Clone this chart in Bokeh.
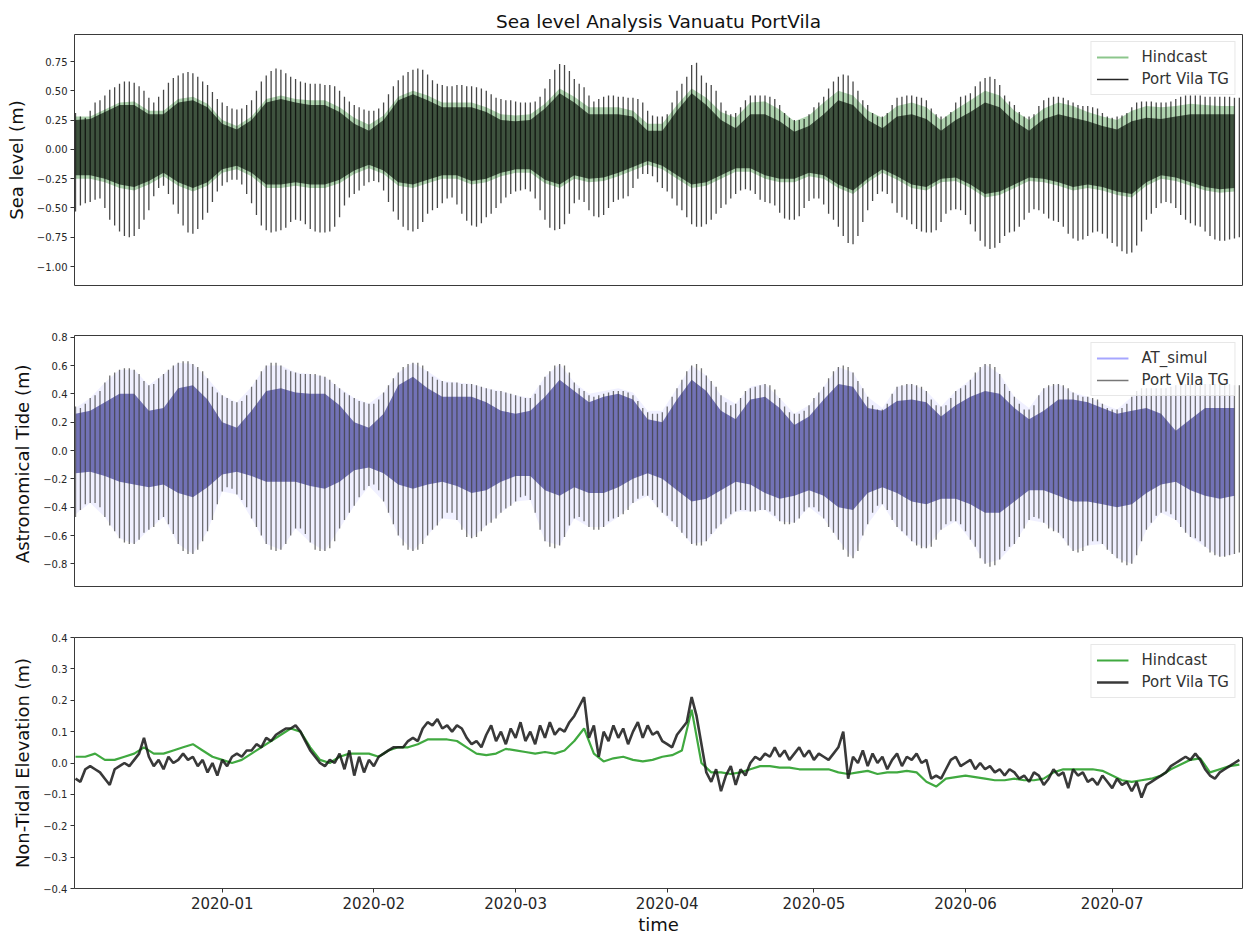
import pandas as pd
from bokeh.plotting import figure
from bokeh.layouts import column
from bokeh.models import (ColumnDataSource, Range1d, FixedTicker, Legend, LegendItem,
                          DatetimeTickFormatter)
from bokeh.embed import file_html
from bokeh.resources import INLINE

# ---------------- data ----------------
START = "2019-12-02"          # first daily sample
X_START = "2019-12-01 19:00"  # left edge of the axes
X_END = "2020-07-27 15:30"    # right edge of the axes

MONTHS = ["2020-01", "2020-02", "2020-03", "2020-04", "2020-05", "2020-06", "2020-07"]

TITLE = "Sea level Analysis Vanuatu PortVila"

# Panel 1 - Port Vila TG, daily higher-high / lower-low (m)
TG_SEA_HI = [
    0.31, 0.28, 0.27, 0.33, 0.40, 0.42, 0.46, 0.51, 0.53, 0.56,
    0.58, 0.58, 0.57, 0.54, 0.50, 0.44, 0.40, 0.45, 0.51, 0.57,
    0.61, 0.63, 0.65, 0.66, 0.65, 0.62, 0.58, 0.55, 0.49, 0.43,
    0.40, 0.37, 0.35, 0.34, 0.35, 0.38, 0.42, 0.50, 0.58, 0.63,
    0.67, 0.69, 0.68, 0.65, 0.62, 0.60, 0.58, 0.57, 0.56, 0.56,
    0.56, 0.55, 0.55, 0.54, 0.50, 0.45, 0.41, 0.38, 0.36, 0.34,
    0.33, 0.33, 0.35, 0.40, 0.47, 0.54, 0.59, 0.63, 0.66, 0.68,
    0.69, 0.68, 0.64, 0.59, 0.56, 0.55, 0.54, 0.54, 0.55, 0.55,
    0.54, 0.54, 0.53, 0.52, 0.50, 0.47, 0.44, 0.43, 0.42, 0.42,
    0.41, 0.40, 0.40, 0.40, 0.41, 0.45, 0.52, 0.60, 0.68, 0.73,
    0.72, 0.67, 0.60, 0.56, 0.53, 0.46, 0.41, 0.43, 0.45, 0.46,
    0.46, 0.45, 0.45, 0.44, 0.44, 0.43, 0.40, 0.33, 0.29, 0.28,
    0.28, 0.30, 0.40, 0.50, 0.56, 0.62, 0.72, 0.74, 0.63, 0.57,
    0.55, 0.50, 0.40, 0.33, 0.30, 0.31, 0.36, 0.42, 0.46, 0.46,
    0.46, 0.46, 0.45, 0.43, 0.38, 0.31, 0.27, 0.25, 0.25, 0.26,
    0.30, 0.36, 0.40, 0.45, 0.52, 0.58, 0.62, 0.64, 0.63, 0.58,
    0.50, 0.42, 0.38, 0.31, 0.28, 0.28, 0.31, 0.38, 0.44, 0.45,
    0.46, 0.46, 0.45, 0.44, 0.42, 0.35, 0.30, 0.28, 0.28, 0.32,
    0.40, 0.45, 0.46, 0.48, 0.54, 0.58, 0.61, 0.62, 0.60, 0.55,
    0.46, 0.41, 0.38, 0.32, 0.28, 0.28, 0.30, 0.37, 0.42, 0.44,
    0.45, 0.45, 0.44, 0.42, 0.40, 0.38, 0.37, 0.37, 0.36, 0.35,
    0.31, 0.28, 0.27, 0.28, 0.29, 0.31, 0.36, 0.40, 0.41, 0.41,
    0.41, 0.40, 0.40, 0.40, 0.41, 0.43, 0.45, 0.46, 0.46, 0.46,
    0.46, 0.45, 0.45, 0.45, 0.45, 0.45, 0.45, 0.44, 0.44]
TG_SEA_LO = [
    -0.53, -0.48, -0.46, -0.45, -0.43, -0.42, -0.50, -0.60, -0.65, -0.70,
    -0.74, -0.75, -0.74, -0.68, -0.60, -0.52, -0.40, -0.33, -0.31, -0.38,
    -0.47, -0.55, -0.65, -0.71, -0.72, -0.68, -0.60, -0.54, -0.45, -0.36,
    -0.31, -0.28, -0.26, -0.26, -0.30, -0.38, -0.46, -0.56, -0.65, -0.69,
    -0.71, -0.70, -0.69, -0.67, -0.62, -0.60, -0.61, -0.64, -0.68, -0.70,
    -0.71, -0.71, -0.70, -0.66, -0.58, -0.48, -0.41, -0.38, -0.35, -0.31,
    -0.28, -0.27, -0.28, -0.35, -0.45, -0.53, -0.60, -0.66, -0.69, -0.70,
    -0.68, -0.62, -0.55, -0.52, -0.50, -0.46, -0.42, -0.41, -0.47, -0.55,
    -0.61, -0.65, -0.66, -0.63, -0.58, -0.55, -0.50, -0.46, -0.41, -0.38,
    -0.36, -0.35, -0.34, -0.36, -0.42, -0.52, -0.60, -0.67, -0.69, -0.68,
    -0.64, -0.55, -0.46, -0.43, -0.45, -0.52, -0.57, -0.58, -0.56, -0.50,
    -0.45, -0.43, -0.42, -0.40, -0.33, -0.25, -0.21, -0.21, -0.23, -0.28,
    -0.33, -0.36, -0.42, -0.48, -0.52, -0.58, -0.64, -0.66, -0.66, -0.64,
    -0.60, -0.55, -0.50, -0.47, -0.42, -0.38, -0.35, -0.34, -0.35, -0.38,
    -0.43, -0.45, -0.46, -0.48, -0.54, -0.59, -0.60, -0.60, -0.57, -0.50,
    -0.44, -0.42, -0.42, -0.47, -0.55, -0.60, -0.66, -0.74, -0.80, -0.81,
    -0.74, -0.62, -0.52, -0.44, -0.38, -0.36, -0.38, -0.46, -0.54, -0.58,
    -0.60, -0.64, -0.68, -0.70, -0.71, -0.71, -0.69, -0.62, -0.55, -0.52,
    -0.51, -0.52, -0.56, -0.64, -0.70, -0.78, -0.83, -0.85, -0.84, -0.80,
    -0.74, -0.71, -0.70, -0.66, -0.60, -0.54, -0.51, -0.52, -0.55, -0.59,
    -0.61, -0.62, -0.66, -0.72, -0.76, -0.78, -0.77, -0.74, -0.71, -0.70,
    -0.72, -0.76, -0.80, -0.83, -0.87, -0.89, -0.88, -0.82, -0.70, -0.60,
    -0.55, -0.50, -0.46, -0.45, -0.46, -0.50, -0.56, -0.60, -0.63, -0.65,
    -0.66, -0.70, -0.74, -0.77, -0.78, -0.78, -0.77, -0.76, -0.75]

# Panel 1 - dense inner band of the TG record and of the Hindcast (every 3 days)
TG_SEA_CORE_HI = [
    0.25, 0.26, 0.32, 0.38, 0.38, 0.30, 0.30, 0.40, 0.42, 0.36,
    0.22, 0.17, 0.25, 0.40, 0.43, 0.40, 0.38, 0.38, 0.32, 0.22,
    0.16, 0.25, 0.42, 0.47, 0.42, 0.36, 0.36, 0.36, 0.32, 0.25,
    0.24, 0.25, 0.35, 0.48, 0.40, 0.30, 0.30, 0.30, 0.28, 0.16,
    0.16, 0.33, 0.48, 0.38, 0.25, 0.18, 0.30, 0.30, 0.24, 0.15,
    0.20, 0.30, 0.42, 0.38, 0.25, 0.18, 0.28, 0.30, 0.26, 0.16,
    0.25, 0.32, 0.40, 0.36, 0.24, 0.16, 0.26, 0.30, 0.27, 0.24,
    0.20, 0.17, 0.24, 0.27, 0.26, 0.28, 0.30, 0.30, 0.30, 0.30]
TG_SEA_CORE_LO = [
    -0.22, -0.22, -0.25, -0.30, -0.32, -0.27, -0.20, -0.28, -0.33, -0.28,
    -0.17, -0.14, -0.20, -0.30, -0.30, -0.28, -0.30, -0.30, -0.26, -0.18,
    -0.13, -0.18, -0.28, -0.30, -0.26, -0.22, -0.22, -0.27, -0.25, -0.20,
    -0.17, -0.17, -0.26, -0.30, -0.22, -0.25, -0.24, -0.20, -0.15, -0.10,
    -0.14, -0.22, -0.30, -0.28, -0.22, -0.16, -0.16, -0.22, -0.25, -0.25,
    -0.20, -0.22, -0.30, -0.35, -0.25, -0.17, -0.23, -0.30, -0.32, -0.25,
    -0.24, -0.30, -0.38, -0.36, -0.30, -0.24, -0.25, -0.28, -0.32, -0.30,
    -0.32, -0.36, -0.38, -0.28, -0.22, -0.24, -0.28, -0.32, -0.34, -0.33]
HINDCAST_HI = [
    0.28, 0.28, 0.34, 0.40, 0.41, 0.33, 0.33, 0.43, 0.45, 0.39,
    0.25, 0.20, 0.28, 0.43, 0.46, 0.43, 0.42, 0.42, 0.36, 0.27,
    0.21, 0.29, 0.45, 0.50, 0.46, 0.40, 0.40, 0.40, 0.36, 0.30,
    0.29, 0.30, 0.39, 0.52, 0.45, 0.36, 0.36, 0.36, 0.33, 0.22,
    0.22, 0.38, 0.52, 0.44, 0.32, 0.27, 0.40, 0.41, 0.34, 0.24,
    0.29, 0.40, 0.50, 0.46, 0.33, 0.27, 0.37, 0.40, 0.36, 0.25,
    0.34, 0.42, 0.50, 0.46, 0.33, 0.25, 0.35, 0.40, 0.37, 0.32,
    0.28, 0.25, 0.33, 0.37, 0.36, 0.37, 0.39, 0.38, 0.37, 0.37]
HINDCAST_LO = [
    -0.25, -0.25, -0.28, -0.33, -0.35, -0.30, -0.23, -0.31, -0.36, -0.31,
    -0.20, -0.17, -0.23, -0.33, -0.33, -0.31, -0.33, -0.33, -0.29, -0.21,
    -0.16, -0.21, -0.31, -0.33, -0.29, -0.25, -0.25, -0.30, -0.28, -0.23,
    -0.20, -0.20, -0.29, -0.33, -0.25, -0.28, -0.27, -0.23, -0.18, -0.13,
    -0.17, -0.25, -0.33, -0.31, -0.25, -0.19, -0.19, -0.25, -0.28, -0.28,
    -0.23, -0.25, -0.33, -0.38, -0.28, -0.20, -0.26, -0.33, -0.35, -0.28,
    -0.27, -0.33, -0.41, -0.39, -0.33, -0.27, -0.28, -0.31, -0.35, -0.33,
    -0.35, -0.39, -0.41, -0.31, -0.25, -0.27, -0.31, -0.35, -0.37, -0.36]

# Panel 2 - Port Vila TG tidal part, daily higher-high / lower-low (m)
TG_TIDE_HI = [
    0.31, 0.30, 0.33, 0.37, 0.39, 0.42, 0.48, 0.53, 0.55, 0.57,
    0.58, 0.58, 0.57, 0.54, 0.49, 0.46, 0.47, 0.51, 0.54, 0.57,
    0.60, 0.62, 0.63, 0.63, 0.61, 0.59, 0.56, 0.51, 0.45, 0.41,
    0.39, 0.37, 0.35, 0.34, 0.35, 0.39, 0.45, 0.50, 0.56, 0.60,
    0.62, 0.62, 0.60, 0.57, 0.56, 0.55, 0.54, 0.54, 0.54, 0.54,
    0.53, 0.52, 0.50, 0.47, 0.44, 0.41, 0.39, 0.37, 0.35, 0.34,
    0.33, 0.33, 0.36, 0.41, 0.46, 0.51, 0.55, 0.59, 0.61, 0.62,
    0.62, 0.60, 0.56, 0.52, 0.50, 0.49, 0.48, 0.48, 0.48, 0.47,
    0.47, 0.47, 0.46, 0.45, 0.44, 0.43, 0.42, 0.42, 0.41, 0.40,
    0.39, 0.38, 0.37, 0.37, 0.40, 0.46, 0.52, 0.56, 0.60, 0.61,
    0.60, 0.55, 0.48, 0.44, 0.42, 0.39, 0.38, 0.39, 0.40, 0.41,
    0.42, 0.42, 0.42, 0.41, 0.39, 0.35, 0.30, 0.27, 0.26, 0.26,
    0.27, 0.31, 0.38, 0.44, 0.50, 0.56, 0.60, 0.61, 0.58, 0.53,
    0.49, 0.45, 0.39, 0.34, 0.32, 0.33, 0.37, 0.42, 0.44, 0.45,
    0.46, 0.47, 0.46, 0.43, 0.37, 0.31, 0.27, 0.26, 0.26, 0.28,
    0.32, 0.37, 0.41, 0.45, 0.51, 0.56, 0.59, 0.60, 0.59, 0.55,
    0.49, 0.44, 0.38, 0.32, 0.29, 0.29, 0.33, 0.40, 0.45, 0.46,
    0.47, 0.47, 0.46, 0.45, 0.42, 0.36, 0.32, 0.31, 0.32, 0.37,
    0.42, 0.44, 0.46, 0.50, 0.55, 0.59, 0.61, 0.61, 0.59, 0.54,
    0.47, 0.42, 0.38, 0.33, 0.29, 0.29, 0.32, 0.39, 0.44, 0.46,
    0.47, 0.47, 0.46, 0.44, 0.41, 0.39, 0.38, 0.38, 0.37, 0.36,
    0.33, 0.30, 0.29, 0.29, 0.30, 0.33, 0.38, 0.42, 0.44, 0.44,
    0.44, 0.44, 0.44, 0.44, 0.45, 0.46, 0.47, 0.47, 0.47, 0.47,
    0.47, 0.47, 0.47, 0.47, 0.47, 0.47, 0.47, 0.46, 0.46]
TG_TIDE_LO = [
    -0.47, -0.42, -0.38, -0.37, -0.37, -0.40, -0.47, -0.53, -0.57, -0.62,
    -0.65, -0.66, -0.66, -0.63, -0.58, -0.56, -0.54, -0.49, -0.47, -0.52,
    -0.59, -0.66, -0.71, -0.73, -0.73, -0.70, -0.64, -0.57, -0.49, -0.38,
    -0.29, -0.26, -0.27, -0.31, -0.35, -0.40, -0.48, -0.54, -0.60, -0.66,
    -0.70, -0.71, -0.70, -0.66, -0.60, -0.55, -0.55, -0.59, -0.65, -0.70,
    -0.71, -0.71, -0.69, -0.64, -0.55, -0.49, -0.44, -0.39, -0.33, -0.28,
    -0.25, -0.24, -0.28, -0.36, -0.44, -0.52, -0.60, -0.67, -0.70, -0.71,
    -0.70, -0.66, -0.60, -0.56, -0.53, -0.48, -0.44, -0.44, -0.49, -0.56,
    -0.61, -0.62, -0.61, -0.57, -0.53, -0.51, -0.48, -0.44, -0.41, -0.39,
    -0.36, -0.33, -0.32, -0.35, -0.44, -0.56, -0.64, -0.68, -0.69, -0.67,
    -0.61, -0.53, -0.48, -0.47, -0.50, -0.54, -0.56, -0.56, -0.54, -0.50,
    -0.48, -0.47, -0.45, -0.42, -0.37, -0.34, -0.32, -0.32, -0.35, -0.40,
    -0.44, -0.46, -0.50, -0.54, -0.58, -0.62, -0.66, -0.67, -0.67, -0.64,
    -0.59, -0.55, -0.52, -0.48, -0.45, -0.43, -0.42, -0.42, -0.43, -0.43,
    -0.42, -0.42, -0.43, -0.46, -0.50, -0.52, -0.52, -0.51, -0.48, -0.43,
    -0.40, -0.40, -0.43, -0.48, -0.54, -0.58, -0.63, -0.70, -0.75, -0.76,
    -0.71, -0.60, -0.52, -0.44, -0.39, -0.38, -0.42, -0.49, -0.54, -0.57,
    -0.60, -0.64, -0.67, -0.69, -0.69, -0.68, -0.63, -0.56, -0.52, -0.50,
    -0.50, -0.52, -0.57, -0.63, -0.68, -0.76, -0.80, -0.82, -0.81, -0.77,
    -0.71, -0.68, -0.66, -0.61, -0.55, -0.49, -0.47, -0.48, -0.51, -0.55,
    -0.57, -0.58, -0.62, -0.67, -0.71, -0.72, -0.71, -0.67, -0.64, -0.64,
    -0.66, -0.70, -0.73, -0.76, -0.79, -0.81, -0.80, -0.74, -0.64, -0.56,
    -0.51, -0.46, -0.44, -0.43, -0.45, -0.49, -0.54, -0.58, -0.61, -0.62,
    -0.64, -0.68, -0.72, -0.74, -0.75, -0.75, -0.74, -0.73, -0.72]

# Panel 2 - AT_simul outer range and dense inner band (every 3 days)
AT_HI = [
    0.30, 0.37, 0.48, 0.57, 0.57, 0.46, 0.54, 0.62, 0.61, 0.51,
    0.39, 0.34, 0.45, 0.60, 0.60, 0.55, 0.54, 0.52, 0.44, 0.37,
    0.33, 0.41, 0.55, 0.62, 0.56, 0.49, 0.48, 0.47, 0.44, 0.42,
    0.39, 0.37, 0.52, 0.61, 0.48, 0.40, 0.42, 0.44, 0.41, 0.28,
    0.28, 0.44, 0.60, 0.53, 0.39, 0.33, 0.45, 0.47, 0.37, 0.26,
    0.32, 0.45, 0.59, 0.55, 0.38, 0.30, 0.45, 0.47, 0.42, 0.31,
    0.42, 0.50, 0.61, 0.54, 0.38, 0.30, 0.44, 0.47, 0.41, 0.38,
    0.33, 0.29, 0.38, 0.44, 0.44, 0.46, 0.47, 0.47, 0.47, 0.46]
AT_LO = [
    -0.45, -0.37, -0.47, -0.62, -0.66, -0.56, -0.47, -0.66, -0.73, -0.57,
    -0.29, -0.31, -0.48, -0.66, -0.70, -0.55, -0.65, -0.71, -0.55, -0.39,
    -0.25, -0.36, -0.60, -0.71, -0.60, -0.48, -0.49, -0.62, -0.53, -0.44,
    -0.36, -0.35, -0.64, -0.67, -0.48, -0.54, -0.54, -0.47, -0.37, -0.32,
    -0.44, -0.54, -0.66, -0.64, -0.52, -0.43, -0.43, -0.42, -0.50, -0.51,
    -0.40, -0.48, -0.63, -0.76, -0.52, -0.38, -0.54, -0.64, -0.69, -0.56,
    -0.50, -0.63, -0.80, -0.77, -0.66, -0.49, -0.51, -0.58, -0.71, -0.67,
    -0.66, -0.76, -0.80, -0.56, -0.44, -0.49, -0.61, -0.68, -0.75, -0.73]
AT_CORE_HI = [
    0.26, 0.28, 0.34, 0.40, 0.40, 0.28, 0.30, 0.44, 0.46, 0.36,
    0.20, 0.16, 0.28, 0.42, 0.44, 0.41, 0.40, 0.40, 0.32, 0.20,
    0.16, 0.26, 0.46, 0.52, 0.44, 0.38, 0.38, 0.38, 0.34, 0.28,
    0.26, 0.28, 0.38, 0.50, 0.42, 0.34, 0.38, 0.40, 0.36, 0.22,
    0.20, 0.36, 0.50, 0.42, 0.28, 0.22, 0.36, 0.38, 0.30, 0.18,
    0.24, 0.36, 0.47, 0.45, 0.30, 0.28, 0.35, 0.36, 0.34, 0.24,
    0.32, 0.38, 0.42, 0.40, 0.30, 0.22, 0.28, 0.36, 0.36, 0.34,
    0.30, 0.26, 0.28, 0.30, 0.26, 0.14, 0.22, 0.30, 0.30, 0.30]
AT_CORE_LO = [
    -0.16, -0.15, -0.18, -0.22, -0.24, -0.26, -0.24, -0.30, -0.33, -0.26,
    -0.17, -0.15, -0.18, -0.22, -0.22, -0.22, -0.25, -0.27, -0.22, -0.14,
    -0.12, -0.16, -0.24, -0.27, -0.24, -0.22, -0.25, -0.30, -0.28, -0.22,
    -0.18, -0.18, -0.28, -0.32, -0.26, -0.30, -0.30, -0.26, -0.20, -0.16,
    -0.20, -0.28, -0.36, -0.34, -0.28, -0.22, -0.24, -0.30, -0.34, -0.32,
    -0.28, -0.32, -0.40, -0.42, -0.30, -0.26, -0.30, -0.36, -0.38, -0.34,
    -0.34, -0.38, -0.44, -0.44, -0.36, -0.28, -0.28, -0.32, -0.36, -0.36,
    -0.38, -0.40, -0.38, -0.30, -0.24, -0.22, -0.28, -0.32, -0.34, -0.32]

# Panel 3 - non-tidal elevation: TG daily, Hindcast every 2 days (m)
TG_NT = [
    -0.05, -0.06, -0.02, -0.01, -0.02, -0.03, -0.05, -0.07, -0.02, -0.01,
    0.00, -0.01, 0.01, 0.03, 0.08, 0.02, -0.01, 0.01, -0.02, 0.02,
    0.00, 0.01, 0.03, 0.01, 0.02, -0.01, 0.01, -0.03, 0.00, -0.04,
    0.01, -0.01, 0.02, 0.03, 0.02, 0.04, 0.04, 0.06, 0.05, 0.08,
    0.07, 0.09, 0.10, 0.11, 0.11, 0.12, 0.10, 0.07, 0.04, 0.02,
    0.00, -0.01, 0.01, 0.00, 0.03, -0.02, 0.04, -0.04, 0.02, -0.03,
    0.01, -0.01, 0.02, 0.03, 0.04, 0.05, 0.05, 0.05, 0.07, 0.08,
    0.07, 0.11, 0.13, 0.12, 0.14, 0.11, 0.12, 0.10, 0.12, 0.11,
    0.08, 0.06, 0.07, 0.05, 0.09, 0.12, 0.07, 0.10, 0.06, 0.11,
    0.08, 0.13, 0.07, 0.10, 0.06, 0.12, 0.08, 0.13, 0.09, 0.11,
    0.10, 0.13, 0.15, 0.18, 0.21, 0.08, 0.12, 0.02, 0.10, 0.07,
    0.12, 0.08, 0.11, 0.06, 0.10, 0.13, 0.08, 0.12, 0.09, 0.10,
    0.07, 0.06, 0.05, 0.09, 0.11, 0.13, 0.21, 0.15, 0.06, -0.03,
    -0.06, -0.02, -0.09, -0.04, -0.01, -0.07, -0.02, -0.04, 0.00, 0.02,
    0.01, 0.03, 0.02, 0.05, 0.02, 0.04, 0.01, 0.03, 0.05, 0.02,
    0.04, 0.01, 0.03, 0.02, 0.01, 0.03, 0.05, 0.10, -0.05, 0.02,
    0.00, 0.04, -0.01, 0.03, 0.00, 0.02, -0.02, 0.01, 0.03, -0.01,
    0.02, 0.01, 0.03, 0.00, 0.01, -0.05, -0.04, -0.05, -0.02, 0.01,
    0.02, -0.01, 0.00, 0.01, -0.02, 0.00, -0.02, -0.01, -0.03, -0.02,
    -0.04, -0.02, -0.03, -0.05, -0.04, -0.06, -0.03, -0.04, -0.07, -0.05,
    -0.02, -0.04, -0.03, -0.08, -0.02, -0.04, -0.03, -0.06, -0.05, -0.07,
    -0.04, -0.06, -0.08, -0.05, -0.07, -0.06, -0.09, -0.06, -0.11, -0.07,
    -0.06, -0.05, -0.04, -0.03, -0.01, 0.00, 0.01, 0.02, 0.01, 0.03,
    0.01, -0.02, -0.04, -0.05, -0.03, -0.02, -0.01, 0.00, 0.01]
HC_NT = [
    0.02, 0.02, 0.03, 0.01, 0.01, 0.02, 0.03, 0.05, 0.03, 0.03,
    0.04, 0.05, 0.06, 0.04, 0.02, 0.01, 0.00, 0.01, 0.03, 0.05,
    0.07, 0.09, 0.11, 0.10, 0.05, 0.01, 0.00, 0.02, 0.03, 0.03,
    0.03, 0.02, 0.04, 0.05, 0.05, 0.06, 0.075, 0.075, 0.075, 0.07,
    0.05, 0.03, 0.025, 0.03, 0.045, 0.04, 0.035, 0.03, 0.035, 0.03,
    0.04, 0.07, 0.11, 0.03, 0.005, 0.015, 0.02, 0.01, 0.005, 0.01,
    0.02, 0.025, 0.04, 0.17, 0.00, -0.03, -0.03, -0.035, -0.03, -0.02,
    -0.01, -0.01, -0.015, -0.015, -0.02, -0.02, -0.02, -0.02, -0.03, -0.035,
    -0.03, -0.025, -0.035, -0.03, -0.03, -0.025, -0.03, -0.06, -0.075, -0.05,
    -0.045, -0.04, -0.045, -0.05, -0.055, -0.055, -0.05, -0.055, -0.055, -0.05,
    -0.03, -0.02, -0.02, -0.02, -0.02, -0.025, -0.04, -0.055, -0.06, -0.055,
    -0.05, -0.04, -0.02, -0.005, 0.01, 0.015, -0.03, -0.02, -0.01, -0.005]

# axis ticks / labels
Y1_TICKS = [0.75, 0.5, 0.25, 0.0, -0.25, -0.5, -0.75, -1.0]
Y1_LABELS = ["0.75", "0.50", "0.25", "0.00", "\u22120.25", "\u22120.50", "\u22120.75", "\u22121.00"]
Y2_TICKS = [0.8, 0.6, 0.4, 0.2, 0.0, -0.2, -0.4, -0.6, -0.8]
Y2_LABELS = ["0.8", "0.6", "0.4", "0.2", "0.0", "\u22120.2", "\u22120.4", "\u22120.6", "\u22120.8"]
Y3_TICKS = [0.4, 0.3, 0.2, 0.1, 0.0, -0.1, -0.2, -0.3, -0.4]
Y3_LABELS = ["0.4", "0.3", "0.2", "0.1", "0.0", "\u22120.1", "\u22120.2", "\u22120.3", "\u22120.4"]

# ---------------- time axes ----------------
t_day = pd.date_range(START, periods=len(TG_SEA_HI), freq="D")
t_3d = pd.date_range(START, periods=len(TG_SEA_CORE_HI), freq="3D")
t_2d = pd.date_range(START, periods=len(HC_NT), freq="2D")
month_ms = [pd.Timestamp(m + "-01").timestamp() * 1000.0 for m in MONTHS]

FONT = "DejaVu Sans"
x_range = Range1d(pd.Timestamp(X_START), pd.Timestamp(X_END))


def base_fig(y_rng, ticks, labels, ylabel, top, bottom, title=None):
    kw = dict(x_axis_type="datetime", frame_width=1168, frame_height=251,
              x_range=x_range, y_range=Range1d(*y_rng),
              output_backend="svg", toolbar_location=None,
              min_border_left=74, min_border_right=1,
              min_border_top=top, min_border_bottom=bottom,
              background_fill_color="white", border_fill_color="white")
    if title:
        kw["title"] = title
    p = figure(**kw)
    p.grid.visible = False
    p.outline_line_color = "#3a3a3a"
    p.outline_line_width = 1
    ax = p.yaxis[0]
    ax.ticker = FixedTicker(ticks=ticks)
    ax.major_label_overrides = dict(zip(ticks, labels))
    ax.axis_label = ylabel
    ax.axis_label_text_font = FONT
    ax.axis_label_text_font_size = "18px"
    ax.axis_label_text_font_style = "normal"
    ax.axis_label_text_color = "#111111"
    ax.axis_label_standoff = 7
    ax.major_label_text_font = FONT
    ax.major_label_text_font_size = "10px"
    ax.major_label_text_color = "#262626"
    ax.major_label_standoff = 3
    ax.major_tick_in = 0
    ax.major_tick_out = 4
    ax.major_tick_line_color = "#333333"
    ax.minor_tick_in = 0
    ax.minor_tick_out = 0
    ax.axis_line_color = None
    return p


def add_legend(p, items):
    leg = Legend(items=[LegendItem(label=l, renderers=[r]) for l, r in items],
                 location="top_right", label_text_font=FONT, label_text_font_size="15px",
                 label_text_color="#333333", glyph_width=32, glyph_height=20,
                 label_height=20, label_standoff=13, spacing=2, padding=5, margin=7,
                 border_line_color="#d0d0d0", border_line_width=1,
                 background_fill_color="white", background_fill_alpha=0.8)
    p.add_layout(leg)


def legend_line(p, color, alpha, width):
    # a renderer used only for its legend swatch (one point, nothing drawn in the frame)
    return p.line(x=[t_day[0]], y=[float("nan")], line_color=color,
                  line_alpha=alpha, line_width=width)


# ---------------- panel 1 : sea level ----------------
p1 = base_fig((-1.162, 0.981), Y1_TICKS, Y1_LABELS, "Sea level (m)", 34, 25, TITLE)
p1.title.align = "center"
p1.title.text_font = FONT
p1.title.text_font_size = "18.5px"
p1.title.text_font_style = "normal"
p1.title.text_color = "#111111"
p1.title.standoff = 6
p1.xaxis.visible = False

s1 = ColumnDataSource(dict(t=t_day, hi=TG_SEA_HI, lo=TG_SEA_LO))
s1c = ColumnDataSource(dict(t=t_3d, chi=TG_SEA_CORE_HI, clo=TG_SEA_CORE_LO,
                            hhi=HINDCAST_HI, hlo=HINDCAST_LO))
p1.varea(x="t", y1="hlo", y2="hhi", source=s1c, fill_color="#2a8a2a", fill_alpha=0.38)
p1.varea(x="t", y1="clo", y2="chi", source=s1c, fill_color="#142014", fill_alpha=0.72)
p1.segment(x0="t", y0="lo", x1="t", y1="hi", source=s1,
           line_color="black", line_alpha=0.72, line_width=1.3)
r_hc1 = legend_line(p1, "green", 0.45, 2)
r_tg1 = legend_line(p1, "black", 0.85, 1.5)
add_legend(p1, [("Hindcast", r_hc1), ("Port Vila TG", r_tg1)])

# ---------------- panel 2 : astronomical tide ----------------
p2 = base_fig((-0.96, 0.812), Y2_TICKS, Y2_LABELS, "Astronomical Tide  (m)", 25, 25)
p2.xaxis.visible = False

s2 = ColumnDataSource(dict(t=t_day, hi=TG_TIDE_HI, lo=TG_TIDE_LO))
s2a = ColumnDataSource(dict(t=t_3d, hi=AT_HI, lo=AT_LO, chi=AT_CORE_HI, clo=AT_CORE_LO))
p2.varea(x="t", y1="lo", y2="hi", source=s2a, fill_color="blue", fill_alpha=0.06)
p2.varea(x="t", y1="clo", y2="chi", source=s2a, fill_color="#5656a6", fill_alpha=0.82)
p2.segment(x0="t", y0="lo", x1="t", y1="hi", source=s2,
           line_color="#3c3c3c", line_alpha=0.72, line_width=1.3)
r_at = legend_line(p2, "blue", 0.35, 2)
r_tg2 = legend_line(p2, "#555555", 0.8, 1.5)
add_legend(p2, [("AT_simul", r_at), ("Port Vila TG", r_tg2)])

# ---------------- panel 3 : non-tidal elevation ----------------
p3 = base_fig((-0.4, 0.4), Y3_TICKS, Y3_LABELS, "Non-Tidal Elevation (m)", 26, 47)
xa = p3.xaxis[0]
xa.ticker = FixedTicker(ticks=month_ms)
xa.formatter = DatetimeTickFormatter(days="%Y-%m", months="%Y-%m", years="%Y-%m")
xa.major_label_overrides = dict(zip(month_ms, MONTHS))
xa.major_label_text_font = FONT
xa.major_label_text_font_size = "15px"
xa.major_label_text_color = "#262626"
xa.major_label_standoff = 4
xa.major_tick_in = 0
xa.major_tick_out = 4
xa.major_tick_line_color = "#333333"
xa.minor_tick_in = 0
xa.minor_tick_out = 0
xa.axis_line_color = None
xa.axis_label = "time"
xa.axis_label_text_font = FONT
xa.axis_label_text_font_size = "18px"
xa.axis_label_text_font_style = "normal"
xa.axis_label_text_color = "#111111"
xa.axis_label_standoff = 2

s3h = ColumnDataSource(dict(t=t_2d, v=HC_NT))
s3t = ColumnDataSource(dict(t=t_day, v=TG_NT))
r_hc3 = p3.line(x="t", y="v", source=s3h, line_color="#1f9a1f", line_alpha=0.85, line_width=2.2)
r_tg3 = p3.line(x="t", y="v", source=s3t, line_color="#161616", line_alpha=0.85, line_width=2.6)
add_legend(p3, [("Hindcast", r_hc3), ("Port Vila TG", r_tg3)])

layout = column(p1, p2, p3)
open("out.html", "w").write(file_html(layout, INLINE))
